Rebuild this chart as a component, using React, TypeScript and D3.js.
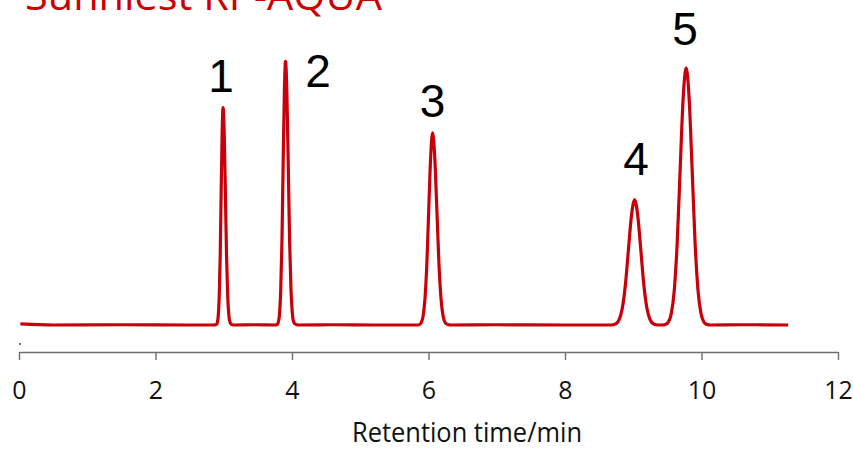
import React, { useEffect, useRef } from 'react';
import * as d3 from 'd3';

// trace of the chromatogram: [time (min), signal]
const baseline1: [number, number][] = [
  [0.02, 0.4], [0.5, 0], [1.5, 0.1], [2.5, 0], [2.85, 0],
];
const peak1: [number, number][] = [
  [2.892, 0.2], [2.906, 0.9], [2.92, 3.6], [2.934, 11], [2.948, 26], [2.962, 50], [2.976, 72], [2.99, 82],
  [3.007, 72], [3.024, 50], [3.041, 26], [3.058, 11], [3.075, 3.6], [3.092, 1], [3.11, 0.3], [3.14, 0],
];
const baseline2: [number, number][] = [[3.45, 0.1], [3.75, 0]];
const peak2: [number, number][] = [
  [3.783, 0.2], [3.8, 1.1], [3.818, 4.4], [3.835, 13.4], [3.853, 31.8], [3.87, 60.6], [3.888, 87.5], [3.905, 99.5],
  [3.925, 87.5], [3.945, 60.6], [3.965, 31.8], [3.985, 13.4], [4.005, 4.4], [4.025, 1.1], [4.05, 0.3], [4.09, 0],
];
const baseline3: [number, number][] = [[4.6, 0.1], [5.2, 0], [5.82, 0]];
const peak3: [number, number][] = [
  [5.864, 0.1], [5.892, 0.8], [5.92, 3.2], [5.948, 9.8], [5.976, 23.2], [6.004, 44], [6.032, 63.6], [6.06, 72.5],
  [6.091, 63.6], [6.122, 44], [6.153, 23.2], [6.184, 9.8], [6.215, 3.2], [6.246, 0.8], [6.28, 0.2], [6.33, 0],
];
const baseline4: [number, number][] = [[7.0, 0.1], [8.0, 0], [8.66, 0]];
const peak4: [number, number][] = [
  [8.705, 0.1], [8.75, 0.5], [8.795, 2.1], [8.84, 6.4], [8.885, 15.2], [8.93, 28.6], [8.975, 41.5], [9.02, 47.2],
  [9.065, 41.5], [9.11, 28.6], [9.155, 15.2], [9.2, 6.4], [9.245, 2.1], [9.29, 0.5], [9.335, 0.1], [9.38, 0],
];
const baseline5: [number, number][] = [[9.42, 0]];
const peak5: [number, number][] = [
  [9.47, 0.2], [9.514, 1.1], [9.557, 4.3], [9.601, 13.1], [9.644, 31], [9.688, 59.2], [9.731, 85.4], [9.775, 97],
  [9.819, 85.4], [9.862, 59.2], [9.906, 31], [9.949, 13.1], [9.993, 4.3], [10.036, 1.1], [10.08, 0.2], [10.13, 0],
];
const baseline6: [number, number][] = [[10.6, 0.1], [11.27, 0]];

const peakLabels = ['1', '2', '3', '4', '5'];
// label anchor: [time, signal] where each number sits
const labelPos: [number, number][] = [
  [2.96, 88], [4.38, 90], [6.06, 78.5], [9.04, 56.5], [9.76, 105.5],
];
const xTicks = [0, 2, 4, 6, 8, 10, 12];

const App = () => {
  const ref = useRef<SVGSVGElement>(null);

  useEffect(() => {
    const svg = d3.select(ref.current);
    svg.selectAll('*').remove();

    const trace = [
      ...baseline1, ...peak1, ...baseline2, ...peak2, ...baseline3, ...peak3,
      ...baseline4, ...peak4, ...baseline5, ...peak5, ...baseline6,
    ];

    const x = d3.scaleLinear().domain([0, 12]).range([19, 838]);
    const y = d3.scaleLinear().domain([0, 100]).range([325, 60]);

    // title (cut off at top)
    svg
      .append('text')
      .attr('x', 25)
      .attr('y', 10)
      .attr('textLength', 357)
      .attr('lengthAdjust', 'spacingAndGlyphs')
      .style('font-family', 'Open Sans')
      .style('font-size', '40px')
      .attr('fill', '#cc0000')
      .text('Sunniest RP-AQUA');

    // axis
    const axis = svg
      .append('g')
      .attr('transform', 'translate(0,352)')
      .call(d3.axisBottom(x).tickValues(xTicks).tickSize(8).tickSizeOuter(0).tickPadding(21));
    axis.select('.domain').attr('stroke', '#6e6e6e').attr('stroke-width', 1.4);
    axis.selectAll('.tick line').attr('stroke', '#6e6e6e').attr('stroke-width', 1.4);
    axis
      .selectAll('.tick text')
      .attr('fill', '#111')
      .style('font-family', 'Open Sans')
      .style('font-size', '25px');

    svg
      .append('text')
      .attr('x', 467)
      .attr('y', 442)
      .attr('text-anchor', 'middle')
      .attr('textLength', 230)
      .attr('lengthAdjust', 'spacingAndGlyphs')
      .style('font-family', 'Open Sans')
      .style('font-size', '27px')
      .attr('fill', '#111')
      .text('Retention time/min');

    // small stray mark above axis start
    svg.append('rect').attr('x', 19).attr('y', 343).attr('width', 2).attr('height', 2).attr('fill', '#6a6aa0');

    // trace
    const line = d3
      .line<[number, number]>()
      .x(d => x(d[0]))
      .y(d => y(d[1]))
      .curve(d3.curveMonotoneX);

    svg
      .append('path')
      .datum(trace)
      .attr('fill', 'none')
      .attr('stroke', '#c8000a')
      .attr('stroke-width', 3.2)
      .attr('stroke-linejoin', 'round')
      .attr('d', line);

    // peak numbers
    svg
      .selectAll('.peak-label')
      .data(peakLabels)
      .enter()
      .append('text')
      .attr('class', 'peak-label')
      .attr('x', (d, i) => x(labelPos[i][0]))
      .attr('y', (d, i) => y(labelPos[i][1]))
      .attr('text-anchor', 'middle')
      .style('font-family', 'Liberation Sans')
      .style('font-size', '46px')
      .attr('fill', '#000')
      .text(d => d);
  }, []);

  return (
    <svg
      ref={ref}
      width={853}
      height={449}
      style={{ position: 'absolute', left: 0, top: 0, background: '#fff' }}
    />
  );
};

export default App;
